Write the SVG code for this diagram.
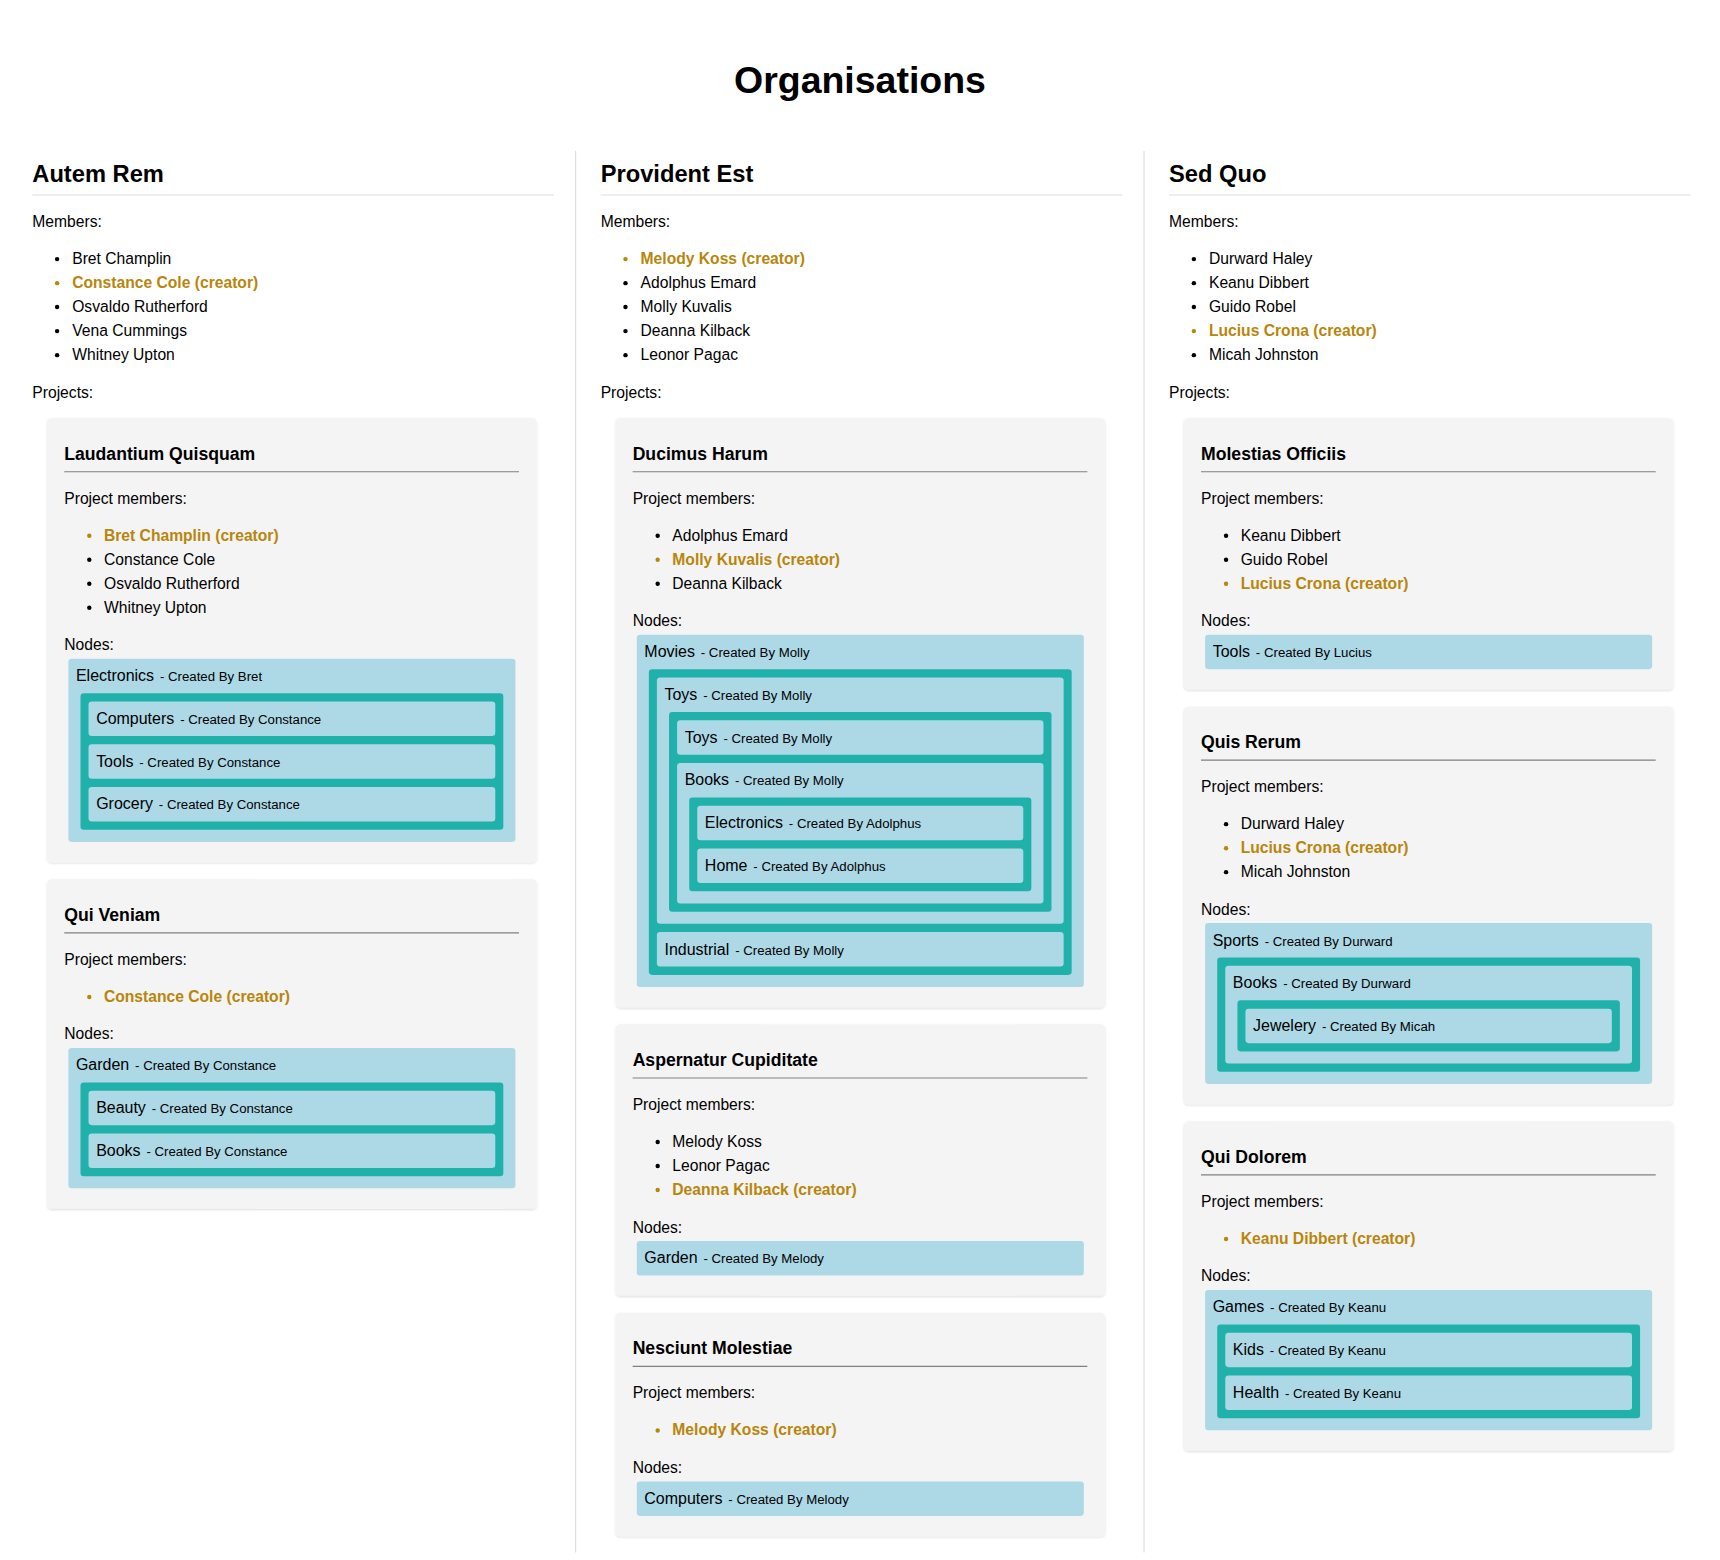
<svg xmlns="http://www.w3.org/2000/svg" width="1720" height="1560" viewBox="0 0 1720 1560">
<defs>
<style>
.t{font-family:"Liberation Sans",Arial,Helvetica,sans-serif;fill:#000}
.h1{font-size:34px;font-weight:bold}
.h2{font-size:21.5px;font-weight:bold}
.h3{font-size:16px;font-weight:bold}
.b{font-size:14.2px}
.cr{font-weight:bold;fill:#b8860b}
.nn{font-size:14.5px}
.cb{font-size:12px}
.proj{fill:#f4f4f4;filter:url(#sh)}
.nb{fill:#add8e6}
.tl{fill:#20b2aa}
.dot{fill:#000}
.gd{fill:#b8860b}
.div{stroke:#dcdcdc;stroke-width:1}
.hl{stroke:#dcdcdc;stroke-width:1}
.pl{stroke:#808080;stroke-width:1}
</style>
<filter id="sh" x="-5%" y="-5%" width="110%" height="115%">
<feDropShadow dx="0" dy="1" stdDeviation="1.2" flood-color="#000" flood-opacity="0.14"/>
</filter>
</defs>
<rect width="1720" height="1560" fill="#fff"/>
<g transform="scale(1.102564)">
<text class="t h1" x="780" y="84.6" text-anchor="middle">Organisations</text>
<g id="dividers">
<line class="div" x1="522.1" y1="137" x2="522.1" y2="1408"/>
<line class="div" x1="1037.6" y1="137" x2="1037.6" y2="1408"/>
</g>

<!-- Column 1 -->
<g id="org-autem-rem">
<text class="t h2" x="29.3" y="164.8">Autem Rem</text>
<line class="hl" x1="29.3" y1="176.9" x2="502.3" y2="176.9"/>
<text class="t b" x="29.3" y="205.9">Members:</text>
<circle class="dot" cx="51.8" cy="235" r="2"/><text class="t b" x="65.5" y="239.4">Bret Champlin</text>
<circle class="gd" cx="51.8" cy="256.8" r="2"/><text class="t b cr" x="65.5" y="261.2">Constance Cole (creator)</text>
<circle class="dot" cx="51.8" cy="278.5" r="2"/><text class="t b" x="65.5" y="282.9">Osvaldo Rutherford</text>
<circle class="dot" cx="51.8" cy="300.3" r="2"/><text class="t b" x="65.5" y="304.7">Vena Cummings</text>
<circle class="dot" cx="51.8" cy="322.1" r="2"/><text class="t b" x="65.5" y="326.5">Whitney Upton</text>
<text class="t b" x="29.3" y="361">Projects:</text>

<g id="proj-laudantium-quisquam">
<rect class="proj" x="42.9" y="379.1" width="443.8" height="403" rx="4"/>
<text class="t h3" x="58.3" y="416.9">Laudantium Quisquam</text>
<line class="pl" x1="58.3" y1="427.8" x2="470.7" y2="427.8"/>
<text class="t b" x="58.3" y="456.8">Project members:</text>
<circle class="gd" cx="81" cy="485.9" r="2"/><text class="t b cr" x="94.3" y="490.3">Bret Champlin (creator)</text>
<circle class="dot" cx="81" cy="507.7" r="2"/><text class="t b" x="94.3" y="512.1">Constance Cole</text>
<circle class="dot" cx="81" cy="529.4" r="2"/><text class="t b" x="94.3" y="533.8">Osvaldo Rutherford</text>
<circle class="dot" cx="81" cy="551.2" r="2"/><text class="t b" x="94.3" y="555.6">Whitney Upton</text>
<text class="t b" x="58.3" y="589.8">Nodes:</text>
<g id="node-electronics-bret">
<rect class="nb" x="62" y="597.4" width="405.5" height="166.2" rx="3"/>
<text class="t nn" x="68.9" y="617.8">Electronics<tspan class="cb" dx="2"> - Created By Bret</tspan></text>
<rect class="tl" x="73" y="628.7" width="383.5" height="123.9" rx="3"/>
<g id="node-computers-constance">
<rect class="nb" x="80.3" y="636.2" width="368.9" height="31.3" rx="3"/>
<text class="t nn" x="87.2" y="656.6">Computers<tspan class="cb" dx="2"> - Created By Constance</tspan></text>
</g>
<g id="node-tools-constance">
<rect class="nb" x="80.3" y="675" width="368.9" height="31.3" rx="3"/>
<text class="t nn" x="87.2" y="695.4">Tools<tspan class="cb" dx="2"> - Created By Constance</tspan></text>
</g>
<g id="node-grocery-constance">
<rect class="nb" x="80.3" y="713.8" width="368.9" height="31.3" rx="3"/>
<text class="t nn" x="87.2" y="734.2">Grocery<tspan class="cb" dx="2"> - Created By Constance</tspan></text>
</g>
</g>
</g>

<g id="proj-qui-veniam">
<rect class="proj" x="42.9" y="797.4" width="443.8" height="298.9" rx="4"/>
<text class="t h3" x="58.3" y="835.2">Qui Veniam</text>
<line class="pl" x1="58.3" y1="846.1" x2="470.7" y2="846.1"/>
<text class="t b" x="58.3" y="875.1">Project members:</text>
<circle class="gd" cx="81" cy="904.2" r="2"/><text class="t b cr" x="94.3" y="908.6">Constance Cole (creator)</text>
<text class="t b" x="58.3" y="942.8">Nodes:</text>
<g id="node-garden-constance">
<rect class="nb" x="62" y="950.4" width="405.5" height="127.4" rx="3"/>
<text class="t nn" x="68.9" y="970.8">Garden<tspan class="cb" dx="2"> - Created By Constance</tspan></text>
<rect class="tl" x="73" y="981.7" width="383.5" height="85.1" rx="3"/>
<g id="node-beauty-constance">
<rect class="nb" x="80.3" y="989.2" width="368.9" height="31.3" rx="3"/>
<text class="t nn" x="87.2" y="1009.6">Beauty<tspan class="cb" dx="2"> - Created By Constance</tspan></text>
</g>
<g id="node-books-constance">
<rect class="nb" x="80.3" y="1028" width="368.9" height="31.3" rx="3"/>
<text class="t nn" x="87.2" y="1048.4">Books<tspan class="cb" dx="2"> - Created By Constance</tspan></text>
</g>
</g>
</g>
</g>

<!-- Column 2 -->
<g id="org-provident-est">
<text class="t h2" x="544.8" y="164.8">Provident Est</text>
<line class="hl" x1="544.8" y1="176.9" x2="1017.8" y2="176.9"/>
<text class="t b" x="544.8" y="205.9">Members:</text>
<circle class="gd" cx="567.3" cy="235" r="2"/><text class="t b cr" x="581" y="239.4">Melody Koss (creator)</text>
<circle class="dot" cx="567.3" cy="256.8" r="2"/><text class="t b" x="581" y="261.2">Adolphus Emard</text>
<circle class="dot" cx="567.3" cy="278.5" r="2"/><text class="t b" x="581" y="282.9">Molly Kuvalis</text>
<circle class="dot" cx="567.3" cy="300.3" r="2"/><text class="t b" x="581" y="304.7">Deanna Kilback</text>
<circle class="dot" cx="567.3" cy="322.1" r="2"/><text class="t b" x="581" y="326.5">Leonor Pagac</text>
<text class="t b" x="544.8" y="361">Projects:</text>

<g id="proj-ducimus-harum">
<rect class="proj" x="558.4" y="379.1" width="443.8" height="534.6" rx="4"/>
<text class="t h3" x="573.8" y="416.9">Ducimus Harum</text>
<line class="pl" x1="573.8" y1="427.8" x2="986.2" y2="427.8"/>
<text class="t b" x="573.8" y="456.8">Project members:</text>
<circle class="dot" cx="596.5" cy="485.9" r="2"/><text class="t b" x="609.8" y="490.3">Adolphus Emard</text>
<circle class="gd" cx="596.5" cy="507.7" r="2"/><text class="t b cr" x="609.8" y="512.1">Molly Kuvalis (creator)</text>
<circle class="dot" cx="596.5" cy="529.4" r="2"/><text class="t b" x="609.8" y="533.8">Deanna Kilback</text>
<text class="t b" x="573.8" y="568">Nodes:</text>
<g id="node-movies-molly">
<rect class="nb" x="577.5" y="575.6" width="405.5" height="319.6" rx="3"/>
<text class="t nn" x="584.4" y="596">Movies<tspan class="cb" dx="2"> - Created By Molly</tspan></text>
<rect class="tl" x="588.5" y="606.9" width="383.5" height="277.3" rx="3"/>
<g id="node-toys-molly">
<rect class="nb" x="595.8" y="614.4" width="368.9" height="223.5" rx="3"/>
<text class="t nn" x="602.7" y="634.8">Toys<tspan class="cb" dx="2"> - Created By Molly</tspan></text>
<rect class="tl" x="606.8" y="645.7" width="346.9" height="181.2" rx="3"/>
<g id="node-toys-molly-2">
<rect class="nb" x="614.1" y="653.2" width="332.3" height="31.3" rx="3"/>
<text class="t nn" x="621" y="673.6">Toys<tspan class="cb" dx="2"> - Created By Molly</tspan></text>
</g>
<g id="node-books-molly">
<rect class="nb" x="614.1" y="692" width="332.3" height="127.4" rx="3"/>
<text class="t nn" x="621" y="712.4">Books<tspan class="cb" dx="2"> - Created By Molly</tspan></text>
<rect class="tl" x="625.1" y="723.3" width="310.3" height="85.1" rx="3"/>
<g id="node-electronics-adolphus">
<rect class="nb" x="632.4" y="730.8" width="295.7" height="31.3" rx="3"/>
<text class="t nn" x="639.3" y="751.2">Electronics<tspan class="cb" dx="2"> - Created By Adolphus</tspan></text>
</g>
<g id="node-home-adolphus">
<rect class="nb" x="632.4" y="769.6" width="295.7" height="31.3" rx="3"/>
<text class="t nn" x="639.3" y="790">Home<tspan class="cb" dx="2"> - Created By Adolphus</tspan></text>
</g>
</g>
</g>
<g id="node-industrial-molly">
<rect class="nb" x="595.8" y="845.4" width="368.9" height="31.3" rx="3"/>
<text class="t nn" x="602.7" y="865.8">Industrial<tspan class="cb" dx="2"> - Created By Molly</tspan></text>
</g>
</g>
</g>

<g id="proj-aspernatur-cupiditate">
<rect class="proj" x="558.4" y="929" width="443.8" height="246.3" rx="4"/>
<text class="t h3" x="573.8" y="966.8">Aspernatur Cupiditate</text>
<line class="pl" x1="573.8" y1="977.7" x2="986.2" y2="977.7"/>
<text class="t b" x="573.8" y="1006.7">Project members:</text>
<circle class="dot" cx="596.5" cy="1035.8" r="2"/><text class="t b" x="609.8" y="1040.2">Melody Koss</text>
<circle class="dot" cx="596.5" cy="1057.6" r="2"/><text class="t b" x="609.8" y="1062">Leonor Pagac</text>
<circle class="gd" cx="596.5" cy="1079.3" r="2"/><text class="t b cr" x="609.8" y="1083.7">Deanna Kilback (creator)</text>
<text class="t b" x="573.8" y="1117.9">Nodes:</text>
<g id="node-garden-melody">
<rect class="nb" x="577.5" y="1125.5" width="405.5" height="31.3" rx="3"/>
<text class="t nn" x="584.4" y="1145.9">Garden<tspan class="cb" dx="2"> - Created By Melody</tspan></text>
</g>
</g>

<g id="proj-nesciunt-molestiae">
<rect class="proj" x="558.4" y="1190.6" width="443.8" height="202.8" rx="4"/>
<text class="t h3" x="573.8" y="1228.4">Nesciunt Molestiae</text>
<line class="pl" x1="573.8" y1="1239.3" x2="986.2" y2="1239.3"/>
<text class="t b" x="573.8" y="1268.3">Project members:</text>
<circle class="gd" cx="596.5" cy="1297.4" r="2"/><text class="t b cr" x="609.8" y="1301.8">Melody Koss (creator)</text>
<text class="t b" x="573.8" y="1336">Nodes:</text>
<g id="node-computers-melody">
<rect class="nb" x="577.5" y="1343.6" width="405.5" height="31.3" rx="3"/>
<text class="t nn" x="584.4" y="1364">Computers<tspan class="cb" dx="2"> - Created By Melody</tspan></text>
</g>
</g>
</g>

<!-- Column 3 -->
<g id="org-sed-quo">
<text class="t h2" x="1060.3" y="164.8">Sed Quo</text>
<line class="hl" x1="1060.3" y1="176.9" x2="1533.3" y2="176.9"/>
<text class="t b" x="1060.3" y="205.9">Members:</text>
<circle class="dot" cx="1082.8" cy="235" r="2"/><text class="t b" x="1096.5" y="239.4">Durward Haley</text>
<circle class="dot" cx="1082.8" cy="256.8" r="2"/><text class="t b" x="1096.5" y="261.2">Keanu Dibbert</text>
<circle class="dot" cx="1082.8" cy="278.5" r="2"/><text class="t b" x="1096.5" y="282.9">Guido Robel</text>
<circle class="gd" cx="1082.8" cy="300.3" r="2"/><text class="t b cr" x="1096.5" y="304.7">Lucius Crona (creator)</text>
<circle class="dot" cx="1082.8" cy="322.1" r="2"/><text class="t b" x="1096.5" y="326.5">Micah Johnston</text>
<text class="t b" x="1060.3" y="361">Projects:</text>

<g id="proj-molestias-officiis">
<rect class="proj" x="1073.9" y="379.1" width="443.8" height="246.3" rx="4"/>
<text class="t h3" x="1089.3" y="416.9">Molestias Officiis</text>
<line class="pl" x1="1089.3" y1="427.8" x2="1501.7" y2="427.8"/>
<text class="t b" x="1089.3" y="456.8">Project members:</text>
<circle class="dot" cx="1112" cy="485.9" r="2"/><text class="t b" x="1125.3" y="490.3">Keanu Dibbert</text>
<circle class="dot" cx="1112" cy="507.7" r="2"/><text class="t b" x="1125.3" y="512.1">Guido Robel</text>
<circle class="gd" cx="1112" cy="529.4" r="2"/><text class="t b cr" x="1125.3" y="533.8">Lucius Crona (creator)</text>
<text class="t b" x="1089.3" y="568">Nodes:</text>
<g id="node-tools-lucius">
<rect class="nb" x="1093" y="575.6" width="405.5" height="31.3" rx="3"/>
<text class="t nn" x="1099.9" y="596">Tools<tspan class="cb" dx="2"> - Created By Lucius</tspan></text>
</g>
</g>

<g id="proj-quis-rerum">
<rect class="proj" x="1073.9" y="640.7" width="443.8" height="360.9" rx="4"/>
<text class="t h3" x="1089.3" y="678.5">Quis Rerum</text>
<line class="pl" x1="1089.3" y1="689.4" x2="1501.7" y2="689.4"/>
<text class="t b" x="1089.3" y="718.4">Project members:</text>
<circle class="dot" cx="1112" cy="747.5" r="2"/><text class="t b" x="1125.3" y="751.9">Durward Haley</text>
<circle class="gd" cx="1112" cy="769.3" r="2"/><text class="t b cr" x="1125.3" y="773.7">Lucius Crona (creator)</text>
<circle class="dot" cx="1112" cy="791" r="2"/><text class="t b" x="1125.3" y="795.4">Micah Johnston</text>
<text class="t b" x="1089.3" y="829.6">Nodes:</text>
<g id="node-sports-durward">
<rect class="nb" x="1093" y="837.2" width="405.5" height="145.9" rx="3"/>
<text class="t nn" x="1099.9" y="857.6">Sports<tspan class="cb" dx="2"> - Created By Durward</tspan></text>
<rect class="tl" x="1104" y="868.5" width="383.5" height="103.6" rx="3"/>
<g id="node-books-durward">
<rect class="nb" x="1111.3" y="876" width="368.9" height="88.6" rx="3"/>
<text class="t nn" x="1118.2" y="896.4">Books<tspan class="cb" dx="2"> - Created By Durward</tspan></text>
<rect class="tl" x="1122.3" y="907.3" width="346.9" height="46.3" rx="3"/>
<g id="node-jewelery-micah">
<rect class="nb" x="1129.6" y="914.8" width="332.3" height="31.3" rx="3"/>
<text class="t nn" x="1136.5" y="935.2">Jewelery<tspan class="cb" dx="2"> - Created By Micah</tspan></text>
</g>
</g>
</g>
</g>

<g id="proj-qui-dolorem">
<rect class="proj" x="1073.9" y="1016.9" width="443.8" height="298.9" rx="4"/>
<text class="t h3" x="1089.3" y="1054.7">Qui Dolorem</text>
<line class="pl" x1="1089.3" y1="1065.6" x2="1501.7" y2="1065.6"/>
<text class="t b" x="1089.3" y="1094.6">Project members:</text>
<circle class="gd" cx="1112" cy="1123.7" r="2"/><text class="t b cr" x="1125.3" y="1128.1">Keanu Dibbert (creator)</text>
<text class="t b" x="1089.3" y="1162.3">Nodes:</text>
<g id="node-games-keanu">
<rect class="nb" x="1093" y="1169.9" width="405.5" height="127.4" rx="3"/>
<text class="t nn" x="1099.9" y="1190.3">Games<tspan class="cb" dx="2"> - Created By Keanu</tspan></text>
<rect class="tl" x="1104" y="1201.2" width="383.5" height="85.1" rx="3"/>
<g id="node-kids-keanu">
<rect class="nb" x="1111.3" y="1208.7" width="368.9" height="31.3" rx="3"/>
<text class="t nn" x="1118.2" y="1229.1">Kids<tspan class="cb" dx="2"> - Created By Keanu</tspan></text>
</g>
<g id="node-health-keanu">
<rect class="nb" x="1111.3" y="1247.5" width="368.9" height="31.3" rx="3"/>
<text class="t nn" x="1118.2" y="1267.9">Health<tspan class="cb" dx="2"> - Created By Keanu</tspan></text>
</g>
</g>
</g>
</g>
</g>
</svg>
